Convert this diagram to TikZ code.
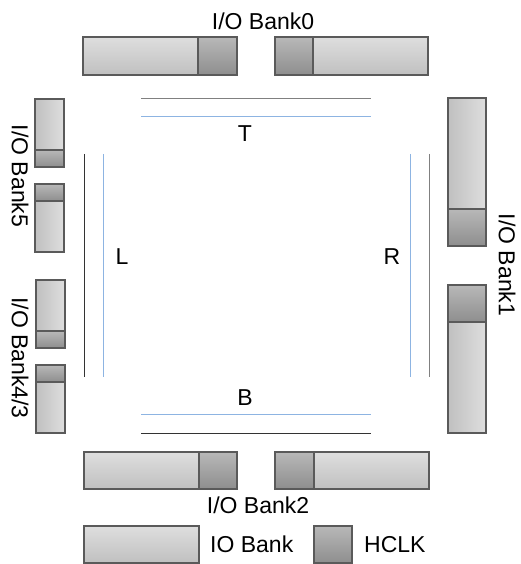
\documentclass[tikz,border=0pt]{standalone}
\usepackage{fontspec}
\setmainfont{Liberation Sans}
\definecolor{edgegray}{HTML}{5A5A5A}
\definecolor{iolight}{HTML}{DEDEDE}
\definecolor{iodark}{HTML}{C0C0C0}
\definecolor{hclklight}{HTML}{B8B8B8}
\definecolor{hclkdark}{HTML}{8E8E8E}
\definecolor{routeblue}{HTML}{8DB4E2}
\definecolor{routegray}{HTML}{808080}
\begin{document}
\begin{tikzpicture}[
        x=1pt, y=-1pt, % pixel grid, y downwards
        lbl/.style={font=\fontsize{23}{27}\selectfont, inner sep=0pt},
        blk/.style={draw=edgegray, line width=1.1pt, inner sep=0pt, outer sep=0pt, anchor=north west},
        iobank/.style={blk, top color=iolight, bottom color=iodark},   % horizontal bank
        iobankv/.style={blk, left color=iodark, right color=iolight}, % vertical bank
        hclk/.style={blk, top color=hclklight, bottom color=hclkdark},
        bline/.style={routeblue, line width=1pt},
        kline/.style={line width=1pt},
    ]
    \useasboundingbox (0,0) rectangle (520,564);

    % top, I/O Bank0
    \node[iobank, minimum width=115pt, minimum height=38pt] (t1) at (83,37) {};
    \node[hclk, minimum width=39pt, minimum height=38pt] (t1h) at (198,37) {};
    \node[hclk, minimum width=38pt, minimum height=38pt] (t2h) at (275,37) {};
    \node[iobank, minimum width=115pt, minimum height=38pt] (t2) at (313,37) {};
    \node[lbl, anchor=base] (bank0) at (263,30) {I/O Bank0};

    % bottom, I/O Bank2
    \node[iobank, minimum width=115pt, minimum height=37pt] (b1) at (84,452) {};
    \node[hclk, minimum width=38pt, minimum height=37pt] (b1h) at (199,452) {};
    \node[hclk, minimum width=39pt, minimum height=37pt] (b2h) at (275,452) {};
    \node[iobank, minimum width=115pt, minimum height=37pt] (b2) at (314,452) {};
    \node[lbl, anchor=base] (bank2) at (258,513) {I/O Bank2};

    % left, I/O Bank5 and I/O Bank4/3
    \node[iobankv, minimum width=29pt, minimum height=51pt] (l1) at (35,99) {};
    \node[hclk, minimum width=29pt, minimum height=17pt] (l1h) at (35,150) {};
    \node[hclk, minimum width=29pt, minimum height=17pt] (l2h) at (35,184) {};
    \node[iobankv, minimum width=29pt, minimum height=51pt] (l2) at (35,201) {};
    \node[iobankv, minimum width=29pt, minimum height=51pt] (l3) at (36,280) {};
    \node[hclk, minimum width=29pt, minimum height=17pt] (l3h) at (36,331) {};
    \node[hclk, minimum width=29pt, minimum height=17pt] (l4h) at (36,365) {};
    \node[iobankv, minimum width=29pt, minimum height=51pt] (l4) at (36,382) {};
    \node[lbl, rotate=-90] (bank5) at (20,176) {I/O Bank5};
    \node[lbl, rotate=-90] (bank43) at (20,358) {I/O Bank4/3};

    % right, I/O Bank1
    \node[iobankv, minimum width=38pt, minimum height=111pt] (r1) at (448,98) {};
    \node[hclk, minimum width=38pt, minimum height=37pt] (r1h) at (448,209) {};
    \node[hclk, minimum width=38pt, minimum height=37pt] (r2h) at (448,285) {};
    \node[iobankv, minimum width=38pt, minimum height=111pt] (r2) at (448,322) {};
    \node[lbl, rotate=-90] (bank1) at (507,265) {I/O Bank1};

    % routing lines
    \draw[kline, routegray] (141,98.5) -- (371,98.5);
    \draw[bline] (141,117) -- (371,117);
    \draw[bline] (141,414) -- (371,414);
    \draw[kline, black!80] (141,433) -- (371,433);
    \draw[kline, black!80] (84.5,154) -- (84.5,377);
    \draw[bline] (103,154) -- (103,377);
    \draw[bline] (410,154) -- (410,377);
    \draw[kline, routegray] (429,154) -- (429,377);
    \node[lbl, anchor=base] (T) at (245,142) {T};
    \node[lbl, anchor=base] (B) at (245,405) {B};
    \node[lbl, anchor=base] (L) at (122,264) {L};
    \node[lbl, anchor=base] (R) at (392,264) {R};

    % legend
    \node[iobank, minimum width=115pt, minimum height=37pt] (legio) at (84,526) {};
    \node[lbl, anchor=base west] (legiotxt) at (210,552) {IO Bank};
    \node[hclk, minimum width=38pt, minimum height=37pt] (leghclk) at (314,526) {};
    \node[lbl, anchor=base west] (leghclktxt) at (364,552) {HCLK};
\end{tikzpicture}
\end{document}
